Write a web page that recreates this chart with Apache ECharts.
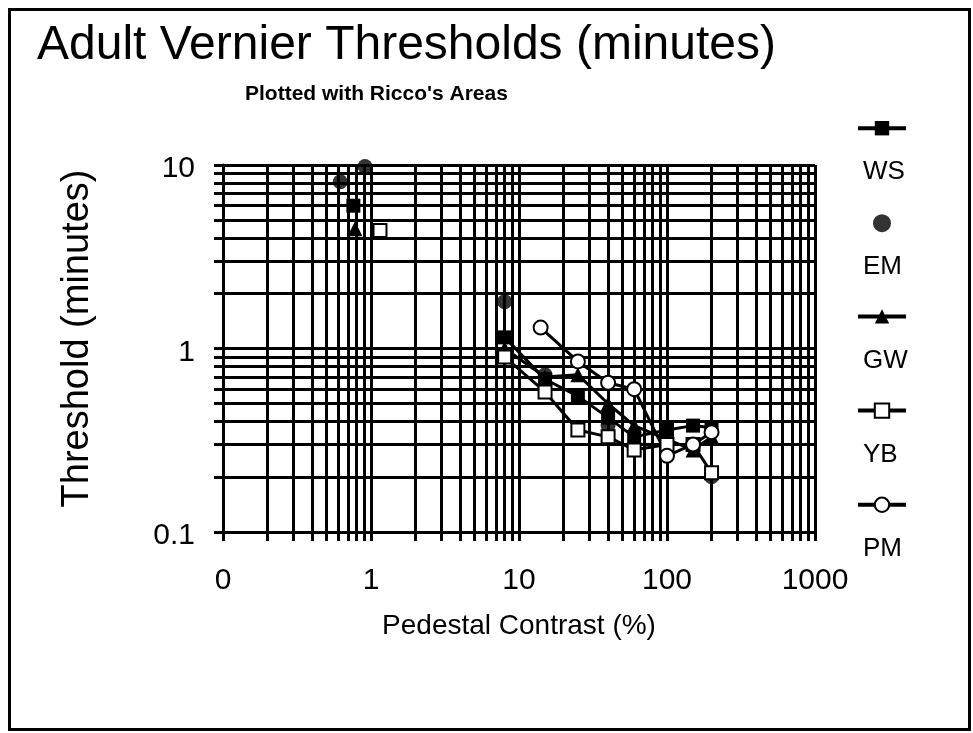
<!DOCTYPE html>
<html>
<head>
<meta charset="utf-8">
<script src="https://cdn.jsdelivr.net/npm/echarts@6/dist/echarts.min.js"></script>
<style>
  html, body { margin: 0; padding: 0; background: #fff; }
  #chart { width: 973px; height: 733px; }
</style>
</head>
<body>
<div id="chart"></div>
<script>
// values (null = gap in the line)
let seriesNames = ["WS", "EM", "GW", "YB", "PM"];

let wsContrast = [0.76, null, 8, 15, 25, 40, 60, 100, 150, 200];
let wsThreshold = [6.0, null, 1.15, 0.68, 0.55, 0.42, 0.33, 0.36, 0.38, 0.37];

let emContrast = [0.62, 0.91, 8, 15, 40, 100, 200];
let emThreshold = [8.1, 9.8, 1.8, 0.72, 0.38, 0.3, 0.2];

let gwContrast = [0.78, null, 8, 15, 25, 40, 60, 100, 150, 200];
let gwThreshold = [4.5, null, 1.0, 0.7, 0.72, 0.5, 0.38, 0.32, 0.28, 0.33];

let ybContrast = [1.15, null, 8, 15, 25, 40, 60, 100, 150, 200];
let ybThreshold = [4.4, null, 0.9, 0.58, 0.36, 0.33, 0.28, 0.3, 0.3, 0.21];

let pmContrast = [14, 25, 40, 60, 100, 150, 200];
let pmThreshold = [1.3, 0.85, 0.65, 0.6, 0.26, 0.3, 0.35];

let xLabelValues = [0.1, 1, 10, 100, 1000];
let yLabelValues = [0.1, 1, 10];

// every 1..9 step of each decade gets a grid line
function decadeSteps(from, to) {
  let out = [];
  for (let d = from; d < to; d *= 10) {
    for (let k = 1; k < 10; k++) out.push(+(k * d).toPrecision(3));
  }
  out.push(to);
  return out;
}

function pairs(xs, ys) {
  return xs.map(function (x, i) {
    return x === null ? ["-", "-"] : [x, ys[i]];
  });
}

let font = "'Liberation Sans', Arial, Helvetica, sans-serif";

let chart = echarts.init(document.getElementById("chart"));

let axisCommon = {
  axisLine: { show: true, lineStyle: { color: "#000", width: 3 } },
  axisTick: { show: true, inside: false, length: 9, lineStyle: { color: "#000", width: 3 } },
  splitLine: { show: true, lineStyle: { color: "#000", width: 3 } }
};

let option = {
  backgroundColor: "#fff",
  animation: false,
  color: ["#000"],
  textStyle: { fontFamily: font, color: "#000" },
  title: [{
    text: "Adult Vernier Thresholds (minutes)",
    left: 37,
    top: 22,
    padding: 0,
    textStyle: { fontFamily: font, fontSize: 48, fontWeight: "normal", color: "#000" }
  }, {
    text: "Plotted with Ricco's Areas",
    left: 245,
    top: 84,
    padding: 0,
    textStyle: { fontFamily: font, fontSize: 21, fontWeight: "bold", color: "#000" }
  }],
  graphic: [{
    type: "rect",
    left: 7,
    top: 7,
    shape: { width: 960, height: 720 },
    style: { fill: "none", stroke: "#000", lineWidth: 3 },
    silent: true
  }],
  legend: {
    orient: "vertical",
    left: 851,
    top: 116,
    itemWidth: 48,
    itemHeight: 18,
    itemGap: 29,
    selectedMode: false,
    data: seriesNames,
    lineStyle: { width: 4 },
    formatter: "{t|{name}}",
    textStyle: {
      rich: {
        t: { fontFamily: font, fontSize: 26, color: "#000", padding: [88, 0, 0, -48] }
      }
    }
  },
  grid: { left: 223, right: 158, top: 165, bottom: 201, containLabel: false },
  xAxis: Object.assign({}, axisCommon, {
    type: "log",
    logBase: 10,
    min: 0.1,
    max: 1000,
    name: "Pedestal Contrast (%)",
    nameLocation: "middle",
    nameGap: 80,
    nameTextStyle: { fontFamily: font, fontSize: 28, color: "#000" },
    axisTick: Object.assign({}, axisCommon.axisTick, { customValues: decadeSteps(0.1, 1000) }),
    axisLabel: {
      customValues: xLabelValues,
      margin: 34,
      fontFamily: font,
      fontSize: 30,
      color: "#000",
      formatter: function (v) { return v < 1 ? "0" : String(Math.round(v)); }
    }
  }),
  yAxis: Object.assign({}, axisCommon, {
    type: "log",
    logBase: 10,
    min: 0.1,
    max: 10,
    name: "Threshold (minutes)",
    nameLocation: "middle",
    nameGap: 126,
    nameTextStyle: { fontFamily: font, fontSize: 38, color: "#000", padding: [0, 0, 0, 20] },
    axisTick: Object.assign({}, axisCommon.axisTick, { customValues: decadeSteps(0.1, 10) }),
    axisLabel: {
      customValues: yLabelValues,
      margin: 28,
      fontFamily: font,
      fontSize: 30,
      color: "#000",
      verticalAlign: "top",
      padding: [-11, 0, 0, 0],
      formatter: function (v) { return v < 1 ? "0.1" : String(Math.round(v)); }
    }
  }),
  series: [{
    name: "WS",
    type: "line",
    data: pairs(wsContrast, wsThreshold),
    symbol: "rect",
    symbolSize: 14,
    connectNulls: false,
    lineStyle: { color: "#000", width: 3 },
    itemStyle: { color: "#000" }
  }, {
    name: "EM",
    type: "scatter",
    data: pairs(emContrast, emThreshold),
    symbol: "circle",
    symbolSize: 15,
    itemStyle: { color: "#000" }
  }, {
    name: "GW",
    type: "line",
    data: pairs(gwContrast, gwThreshold),
    symbol: "triangle",
    symbolSize: 15,
    connectNulls: false,
    lineStyle: { color: "#000", width: 3 },
    itemStyle: { color: "#000" }
  }, {
    name: "YB",
    type: "line",
    data: pairs(ybContrast, ybThreshold),
    symbol: "emptyRect",
    symbolSize: 13,
    showAllSymbol: true,
    connectNulls: false,
    lineStyle: { color: "#000", width: 3 },
    itemStyle: { color: "#000", borderWidth: 2 }
  }, {
    name: "PM",
    type: "line",
    data: pairs(pmContrast, pmThreshold),
    symbol: "emptyCircle",
    symbolSize: 14,
    lineStyle: { color: "#000", width: 3 },
    itemStyle: { color: "#000", borderWidth: 2 }
  }]
};

chart.setOption(option, true);
</script>
</body>
</html>
